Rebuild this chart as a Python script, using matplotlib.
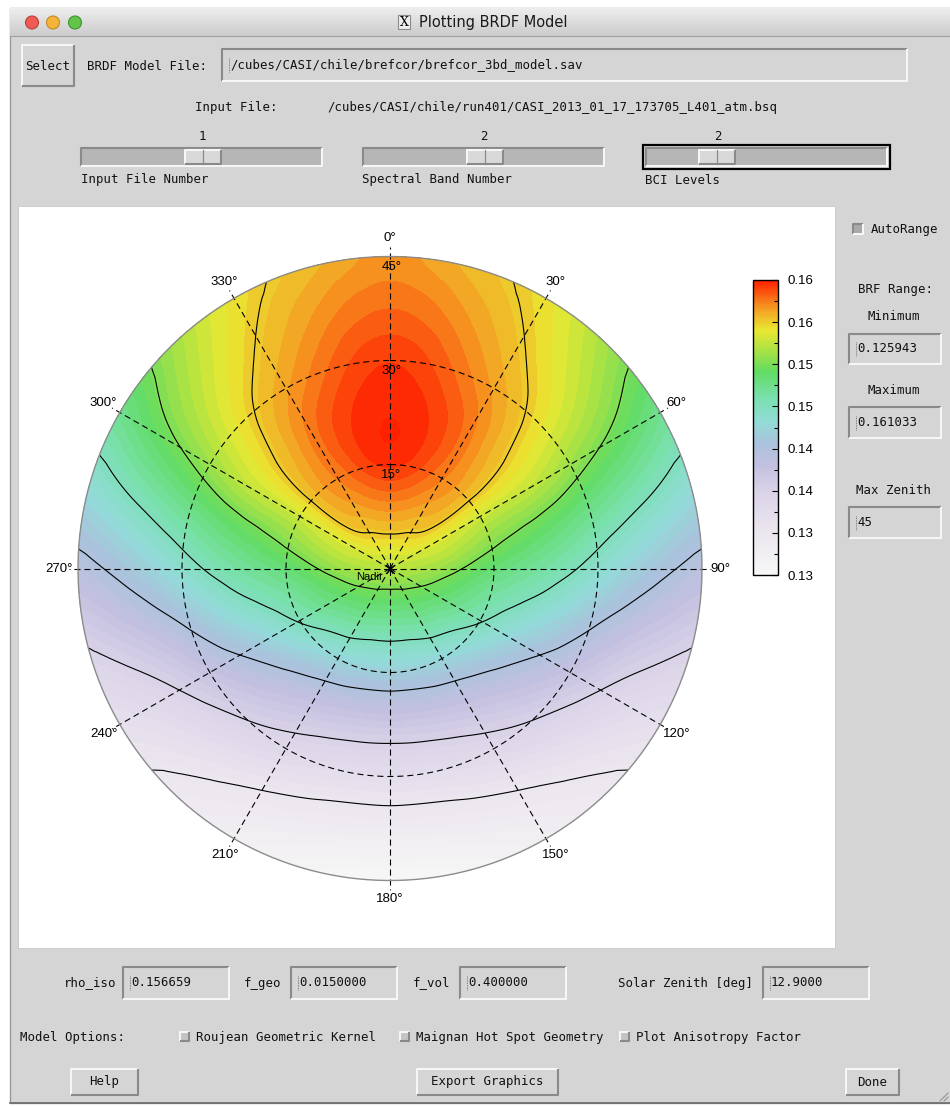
import numpy as np
import matplotlib
matplotlib.use('Agg')
import matplotlib.pyplot as plt
import matplotlib.tri as mtri
from matplotlib.colors import LinearSegmentedColormap, Normalize
from matplotlib.patches import Rectangle, Circle
from matplotlib.ticker import FormatStrFormatter

# BRF values: nadir + rings of view zenith (deg),
# relative azimuth 0..180 every 15 deg (plot is mirror symmetric about 0/180)
azimuth_half = [0, 15, 30, 45, 60, 75, 90, 105, 120, 135, 150, 165, 180]
zenith_rings = [7.5, 15, 22.5, 30, 37.5, 45]
brf_nadir = 0.1530
brf_z07 = [0.1573, 0.1571, 0.1566, 0.1559, 0.1545, 0.1533, 0.1520, 0.1508, 0.1499, 0.1491, 0.1486, 0.1481, 0.1480]
brf_z15 = [0.1605, 0.1598, 0.1584, 0.1568, 0.1539, 0.1516, 0.1494, 0.1476, 0.1462, 0.1446, 0.1436, 0.1430, 0.1429]
brf_z22 = [0.1610, 0.1603, 0.1586, 0.1563, 0.1535, 0.1501, 0.1474, 0.1449, 0.1422, 0.1400, 0.1386, 0.1379, 0.1377]
brf_z30 = [0.1603, 0.1593, 0.1575, 0.1553, 0.1521, 0.1482, 0.1449, 0.1415, 0.1385, 0.1362, 0.1346, 0.1334, 0.1332]
brf_z37 = [0.1590, 0.1580, 0.1562, 0.1538, 0.1504, 0.1462, 0.1422, 0.1383, 0.1349, 0.1325, 0.1307, 0.1296, 0.1293]
brf_z45 = [0.1578, 0.1567, 0.1552, 0.1521, 0.1483, 0.1441, 0.1399, 0.1359, 0.1326, 0.1302, 0.1283, 0.1266, 0.1259]
brf_rings = [brf_z07, brf_z15, brf_z22, brf_z30, brf_z37, brf_z45]

brf_min = 0.125943
brf_max = 0.161033
grid_zeniths = [15, 30]
azimuth_labels = ['0°', '30°', '60°', '90°', '120°', '150°', '180°', '210°', '240°', '270°', '300°', '330°']

# gui texts
model_file = '/cubes/CASI/chile/brefcor/brefcor_3bd_model.sav'
input_file = '/cubes/CASI/chile/run401/CASI_2013_01_17_173705_L401_atm.bsq'
params = [('rho_iso', '0.156659'), ('f_geo', '0.0150000'), ('f_vol', '0.400000'), ('Solar Zenith [deg]', '12.9000')]
options = ['Roujean Geometric Kernel', 'Maignan Hot Spot Geometry', 'Plot Anisotropy Factor']

mono = 'DejaVu Sans Mono'
plotfont = ['Liberation Sans', 'DejaVu Sans']
win_gray = '#d5d5d5'

fig = plt.figure(figsize=(9.5, 11.06), dpi=100)
gui = fig.add_axes([0, 0, 1, 1])
gui.axis('off')


def bevel(x0, y0, x1, y1, raised=True, fill=None, z=2):
    light, dark = '#f6f6f6', '#8a8a8a'
    if not raised:
        light, dark = dark, light
    if fill is not None:
        gui.add_patch(Rectangle((x0, y0), x1 - x0, y1 - y0, fc=fill, ec='none', zorder=z))
    gui.plot([x0, x0, x1], [y1, y0, y0], color=light, lw=1.5, zorder=z + 1, solid_capstyle='butt')
    gui.plot([x0, x1, x1], [y1, y1, y0], color=dark, lw=1.5, zorder=z + 1, solid_capstyle='butt')


def label(x, y, s, ha='left', size=8.9, **kw):
    gui.text(x, y, s, ha=ha, va='center', fontsize=size, family=mono, color='#111111', zorder=5, **kw)


def field(x0, y0, x1, y1, s):
    bevel(x0, y0, x1, y1, raised=False)
    ym = (y0 + y1) / 2
    label(x0 + 8, ym, s)
    gui.plot([x0 + 7, x0 + 7], [ym - 7, ym + 7], color='#666666', lw=0.6, ls=(0, (1, 1)), zorder=6)


def slider(x0, x1, tx, focus=False):
    if focus:
        gui.add_patch(Rectangle((x0 - 3, 145), x1 - x0 + 6, 24, fc='none', ec='black', lw=1.6, zorder=4))
    bevel(x0, 148, x1, 166, raised=False, fill='#b6b6b6')
    bevel(tx, 150, tx + 36, 164, raised=True, fill='#d9d9d9', z=4)
    gui.plot([tx + 18, tx + 18], [150, 164], color='#8a8a8a', lw=0.9, zorder=6)


# window and title bar
gui.add_patch(Rectangle((0, 0), 950, 1106, color='white', zorder=0))
gui.add_patch(Rectangle((10, 8), 950, 1095, fc=win_gray, ec='#9a9a9a', lw=1, zorder=0.5))
grad = np.linspace(0.93, 0.80, 28)[:, None, None] * np.ones((28, 1, 3))
gui.imshow(grad, extent=(10, 950, 36, 8), aspect='auto', interpolation='bilinear', zorder=1)
gui.plot([10, 950], [36, 36], color='#a0a0a0', lw=0.8, zorder=2)
for x, fc, ec in [(32, '#ef5b52', '#b9413a'), (53, '#f4b43a', '#c08a28'), (75, '#62c54a', '#3f9230')]:
    gui.add_patch(Circle((x, 22.5), 6.5, fc=fc, ec=ec, lw=0.8, zorder=3))
gui.add_patch(Rectangle((398, 15), 12, 14, fc='#eeeeee', ec='#8a8a8a', lw=0.8, zorder=3))
gui.text(404, 22.5, 'X', ha='center', va='center', fontsize=9, family='DejaVu Serif', zorder=4)
gui.text(419, 22.5, 'Plotting BRDF Model', ha='left', va='center', fontsize=10.5, family='DejaVu Sans',
         color='#1a1a1a', weight='medium', zorder=4)

# top row widgets
bevel(22, 45, 74, 86, raised=True)
label(48, 66, 'Select', ha='center')
label(87, 66, 'BRDF Model File:')
field(222, 49, 907, 81, model_file)
label(195, 107, 'Input File:')
label(327, 107, input_file)

label(202, 136, '1', ha='center')
label(484, 136, '2', ha='center')
label(718, 136, '2', ha='center')
slider(81, 322, 185)
slider(363, 604, 467)
slider(646, 887, 699, focus=True)
label(81, 180, 'Input File Number')
label(362, 180, 'Spectral Band Number')
label(645, 180, 'BCI Levels')

# draw area
gui.add_patch(Rectangle((18, 206), 817, 742, fc='white', ec='#c8c8c8', lw=0.6, zorder=1))

# right panel
bevel(853, 224, 863, 234, raised=False, fill='#a9a9a9')
label(871, 229, 'AutoRange')
label(895, 289, 'BRF Range:', ha='center')
label(894, 316, 'Minimum', ha='center')
field(849, 334, 941, 364, '0.125943')
label(894, 390, 'Maximum', ha='center')
field(849, 407, 941, 438, '0.161033')
label(894, 490, 'Max Zenith', ha='center')
field(849, 507, 941, 538, '45')

# bottom rows
for (name, val), lx, fx in zip(params, [116, 281, 450, 753], [123, 291, 460, 763]):
    label(lx, 983, name, ha='right')
    field(fx, 967, fx + 106, 999, val)
label(20, 1037, 'Model Options:')
for s, bx in zip(options, [180, 400, 620]):
    bevel(bx, 1032, bx + 9, 1041, raised=True, fill='#c4c4c4')
    label(bx + 16, 1037, s)
for s, x0, x1 in [('Help', 71, 138), ('Export Graphics', 417, 558), ('Done', 846, 899)]:
    bevel(x0, 1069, x1, 1095, raised=True)
    label((x0 + x1) / 2, 1082, s, ha='center')
for d in [4, 8]:
    gui.plot([948 - d, 948], [1101, 1101 - d], color='#8a8a8a', lw=0.7, zorder=3)
gui.plot([10, 950], [1103, 1103], color='#6a6a6a', lw=1.2, zorder=3)
gui.set_xlim(0, 950)
gui.set_ylim(1106, 0)

# ---- polar BRF plot (data units: degrees of view zenith) ----
k = 312 / 45.0
cx, cy = 390, 568.5
pax = fig.add_axes([18 / 950, 1 - 948 / 1106, 817 / 950, 742 / 1106])
pax.set_xlim((18 - cx) / k, (835 - cx) / k)
pax.set_ylim((cy - 948) / k, (cy - 206) / k)
pax.axis('off')

# nodes: nadir + rings, full circle of azimuths (mirror of the half tables)
n_az = 24
px, py, pv = [0.0], [0.0], [brf_nadir]
for z, ring in zip(zenith_rings, brf_rings):
    for i in range(n_az):
        a = 15 * i
        px.append(z * np.sin(np.radians(a)))
        py.append(z * np.cos(np.radians(a)))
        pv.append(ring[i if a <= 180 else n_az - i])


def node(j, i):
    return 1 + j * n_az + (i % n_az)


triangles = []
for i in range(n_az):
    triangles.append([0, node(0, i), node(0, i + 1)])
for j in range(len(zenith_rings) - 1):
    for i in range(n_az):
        a, b, c, d = node(j, i), node(j, i + 1), node(j + 1, i + 1), node(j + 1, i)
        if i < n_az // 2:
            triangles += [[a, b, c], [a, c, d]]
        else:
            triangles += [[a, b, d], [b, c, d]]
tri = mtri.Triangulation(px, py, triangles)
tri_f, v_f = mtri.UniformTriRefiner(tri).refine_field(np.array(pv), subdiv=3)
rr = np.hypot(tri_f.x, tri_f.y)
push = np.where(rr > 44.5, 45.0 / np.maximum(rr, 1e-9), 1.0)
tri_f = mtri.Triangulation(tri_f.x * push, tri_f.y * push, tri_f.triangles)

cmap = LinearSegmentedColormap.from_list('brf', [
    (0.00, '#f7f7f7'), (0.15, '#ebe5ee'), (0.28, '#dbd3e8'), (0.37, '#c3c0e0'),
    (0.45, '#a9c3dc'), (0.52, '#92dcd8'), (0.60, '#7ae0b0'), (0.69, '#62dc62'),
    (0.76, '#a8e244'), (0.83, '#eae832'), (0.90, '#f4a224'), (1.00, '#ff2000')])
norm = Normalize(brf_min, brf_max)
cbar_ticks = np.linspace(brf_min, brf_max, 8)

pax.tricontourf(tri_f, v_f, levels=np.linspace(brf_min, brf_max, 53), cmap=cmap, norm=norm,
                extend='both', antialiased=False, zorder=1)
pax.tricontour(tri_f, v_f, levels=cbar_ticks[1:-1], colors='black', linewidths=0.8, zorder=2)

t = np.linspace(0, 2 * np.pi, 400)
dash = (0, (5.5, 3.5))
for z in grid_zeniths:
    pax.plot(z * np.sin(t), z * np.cos(t), color='black', lw=0.8, ls=dash, zorder=3)
for a in range(0, 360, 30):
    s, c = np.sin(np.radians(a)), np.cos(np.radians(a))
    pax.plot([0, 46.3 * s], [0, 46.3 * c], color='black', lw=0.8, ls=dash, zorder=3)
pax.plot(45 * np.sin(t), 45 * np.cos(t), color='#8c8c8c', lw=1.0, zorder=4)
pax.plot(0, 0, marker=(8, 2, 0), ms=9, mew=0.6, color='black', zorder=4)

for i, s in enumerate(azimuth_labels):
    a = np.radians(30 * i)
    pax.text(47.7 * np.sin(a), 47.7 * np.cos(a), s, ha='center', va='center',
             fontsize=9.5, family=plotfont, zorder=5, clip_on=False)
for z in [15, 30, 45]:
    pax.text(0.2, z - 1.5, '%d°' % z, ha='center', va='center', fontsize=9.5, family=plotfont, zorder=5)
pax.text(-2.9, -1.2, 'Nadir', ha='center', va='center', fontsize=8, family=plotfont, zorder=5)

# colour bar
cax = fig.add_axes([753 / 950, 1 - 575 / 1106, 25 / 950, 295 / 1106])
sm = plt.cm.ScalarMappable(norm=norm, cmap=cmap)
cb = fig.colorbar(sm, cax=cax, ticks=cbar_ticks)
cb.ax.yaxis.set_major_formatter(FormatStrFormatter('%.2f'))
cb.ax.set_yticks((cbar_ticks[:-1] + cbar_ticks[1:]) / 2, minor=True)
cb.ax.tick_params(which='major', direction='in', length=4, width=0.8, pad=7, labelsize=9.5)
cb.ax.tick_params(which='minor', direction='in', length=3, width=0.8)
for lab in cb.ax.get_yticklabels():
    lab.set_family(plotfont)
cb.outline.set_linewidth(1.0)

plt.savefig('out.png', dpi=100)
